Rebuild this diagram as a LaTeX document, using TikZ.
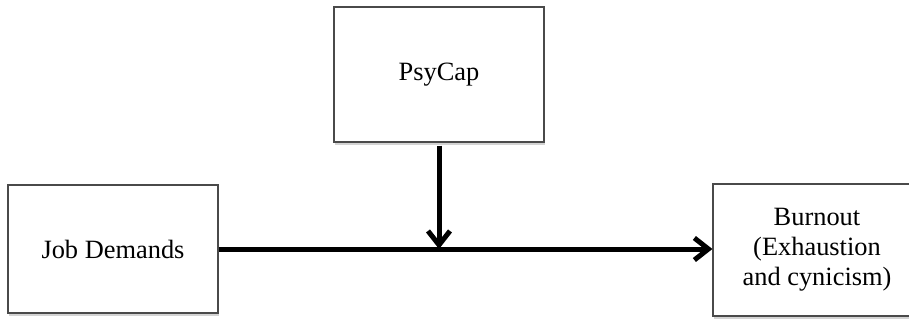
\documentclass[tikz,border=0pt]{standalone}
\usepackage{fontspec}
\setmainfont{Liberation Serif}
\usetikzlibrary{arrows.meta, positioning, shadows}
\definecolor{boxgray}{HTML}{4A4A4A}

\begin{document}
\begin{tikzpicture}[
    x=0.5pt, y=-0.5pt,
    factor/.style={rectangle, draw=boxgray, fill=white, line width=0.6pt,
                   minimum width=#1, align=center,
                   font=\fontsize{13.2}{15}\selectfont,
                   drop shadow={opacity=0.35, shadow xshift=0.6pt, shadow yshift=-1.6pt}},
    arrow/.style={-{Straight Barb[length=7pt, width=11pt]}, line width=2.5pt, black}
  ]
    \useasboundingbox (0,0) rectangle (909,320);

    \node[factor=105pt, minimum height=67.5pt] (psycap) at (439,74.5) {PsyCap};
    \node[factor=105pt, minimum height=64pt] (demands) at (113,249) {Job Demands};
    \node[factor=104pt, minimum height=66pt] (burnout) at (817,250) {Burnout\\(Exhaustion\\and cynicism)};

    \draw[arrow] (demands.east) -- (demands.east -| burnout.west);
    \draw[arrow] ([yshift=-1.5pt]psycap.south) -- (psycap.south |- demands.east);
  \end{tikzpicture}
\end{document}
